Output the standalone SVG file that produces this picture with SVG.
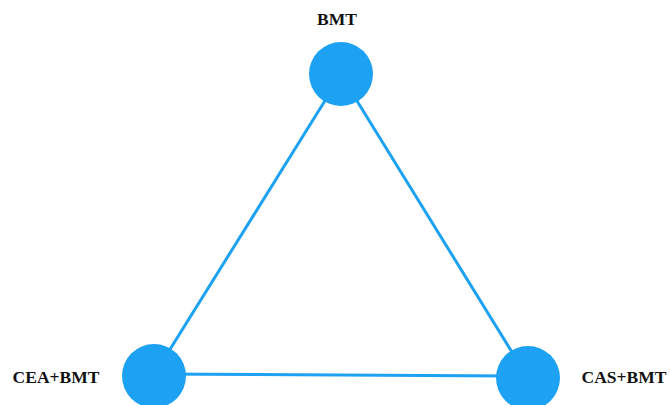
<svg xmlns="http://www.w3.org/2000/svg" width="670" height="405" viewBox="0 0 670 405">
<style>
.edge{stroke:#1DA1F2;stroke-width:3;fill:none}
.node{fill:#1DA1F2}
.lbl{font-family:"Liberation Serif","Times New Roman",serif;font-weight:bold;font-size:17.5px;fill:#111}
</style>
<rect width="670" height="405" fill="#fff"/>
<g id="connectors">
<line class="edge" x1="341" y1="75" x2="154" y2="375"/>
<line class="edge" x1="341" y1="75" x2="528" y2="378"/>
<line class="edge" x1="154" y1="374" x2="528" y2="376"/>
</g>
<g id="BMT">
<circle class="node" cx="341" cy="74" r="32"/>
<text class="lbl" x="337" y="25" text-anchor="middle">BMT</text>
</g>
<g id="CEA_BMT">
<circle class="node" cx="154" cy="376" r="32"/>
<text class="lbl" x="56" y="383" text-anchor="middle">CEA+BMT</text>
</g>
<g id="CAS_BMT">
<circle class="node" cx="528" cy="378" r="32"/>
<text class="lbl" x="624" y="383" text-anchor="middle">CAS+BMT</text>
</g>
</svg>
